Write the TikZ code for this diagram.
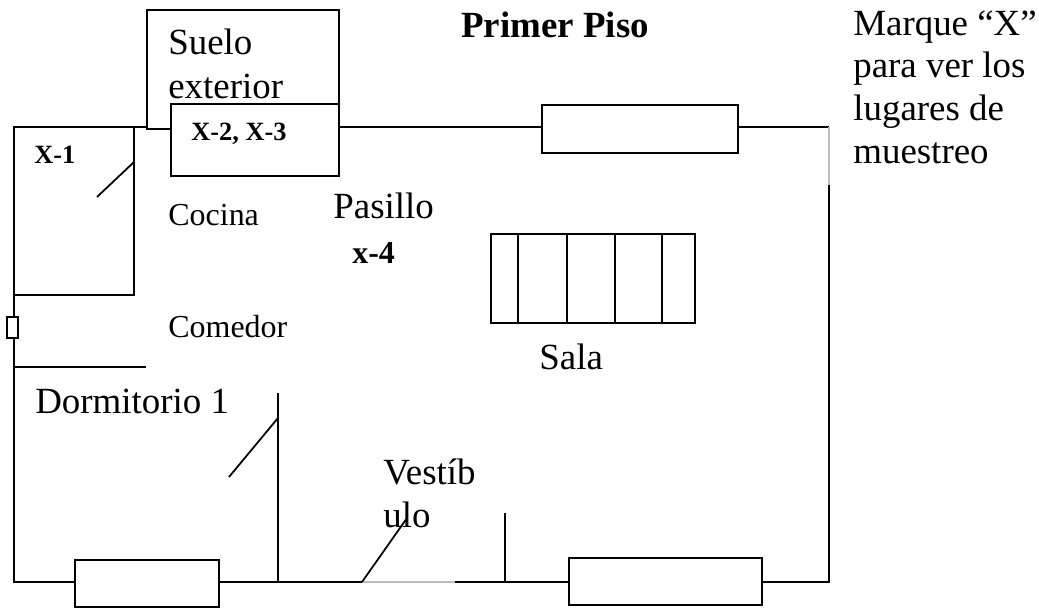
\documentclass[tikz,border=0pt]{standalone}
\usepackage{fontspec}
\setmainfont{Liberation Serif}
\tikzset{
	wall/.style={line width=1pt, black},
	wallgap/.style={line width=0.6pt, black!25},
	bigtext/.style={anchor=base west, inner sep=0pt, font=\fontsize{21}{24.5}\selectfont},
	roomtext/.style={anchor=base west, inner sep=0pt, font=\fontsize{18.2}{21}\selectfont},
	marktext/.style={anchor=base west, inner sep=0pt, font=\fontsize{15}{18}\selectfont\bfseries}
}

\begin{document}
\begin{tikzpicture}[x=0.02cm, y=-0.02cm]
	\useasboundingbox (0, 0) rectangle (1039, 609);

	% walls
	\draw [wall] (147, 127) -- (14, 127) -- (14, 582) -- (75, 582);
	\draw [wall] (339, 127) -- (542, 127);
	\draw [wall] (738, 127) -- (829, 127);
	\draw [wallgap] (829, 127) -- (829, 185);
	\draw [wall] (829, 185) -- (829, 582) -- (762, 582);
	\draw [wall] (219, 582) -- (362, 582);
	\draw [wallgap] (362, 582) -- (455, 582);
	\draw [wall] (455, 582) -- (569, 582);

	% inner walls
	\draw [wall] (14, 295) -- (134, 295) -- (134, 127);
	\draw [wall] (14, 367) -- (146, 367);
	\draw [wall] (278, 393) -- (278, 582);
	\draw [wall] (505, 513) -- (505, 582);

	% doors
	\draw [wall] (134, 162) -- (97, 197);
	\draw [wall] (278, 418) -- (229, 477);
	\draw [wall] (362, 582) -- (407, 518);

	% outside floor
	\draw [wall] (147, 10) rectangle (339, 129);
	\draw [wall, fill=white] (171, 104) rectangle (339, 176);

	% windows
	\draw [wall, fill=white] (542, 105) rectangle (738, 153);
	\draw [wall, fill=white] (75, 560) rectangle (219, 607);
	\draw [wall, fill=white] (569, 558) rectangle (762, 605);
	\draw [wall, fill=white] (7, 317) rectangle (18, 338);

	% stairs
	\draw [wall] (491, 234) rectangle (695, 323);
	\foreach \stepx in {518, 567, 615, 662} {
		\draw [wall] (\stepx, 234) -- (\stepx, 323);
	}

	\node [bigtext, font=\fontsize{21}{24.5}\selectfont\bfseries] (piso) at (461, 37) {Primer Piso};
	\node [bigtext] (suelo) at (168, 54) {Suelo};
	\node [bigtext] (exterior) at (168, 98) {exterior};
	\node [marktext] (xdos) at (191, 140) {X-2, X-3};
	\node [marktext] (xuno) at (34, 163) {X-1};
	\node [roomtext] (cocina) at (168, 225) {Cocina};
	\node [bigtext] (pasillo) at (333, 218) {Pasillo};
	\node [roomtext, font=\fontsize{18.2}{21}\selectfont\bfseries] (xcuatro) at (352, 263) {x-4};
	\node [roomtext] (comedor) at (168, 337) {Comedor};
	\node [bigtext] (sala) at (539, 369) {Sala};
	\node [bigtext] (dormitorio) at (35, 413) {Dormitorio 1};
	\node [bigtext] (vestib) at (383, 484) {Vestíb};
	\node [bigtext] (ulo) at (383, 527) {ulo};

	\node [bigtext] (marque) at (853, 35) {Marque “X”};
	\node [bigtext] (para) at (853, 77) {para ver los};
	\node [bigtext] (lugares) at (853, 120) {lugares de};
	\node [bigtext] (muestreo) at (853, 163) {muestreo};
\end{tikzpicture}
\end{document}
